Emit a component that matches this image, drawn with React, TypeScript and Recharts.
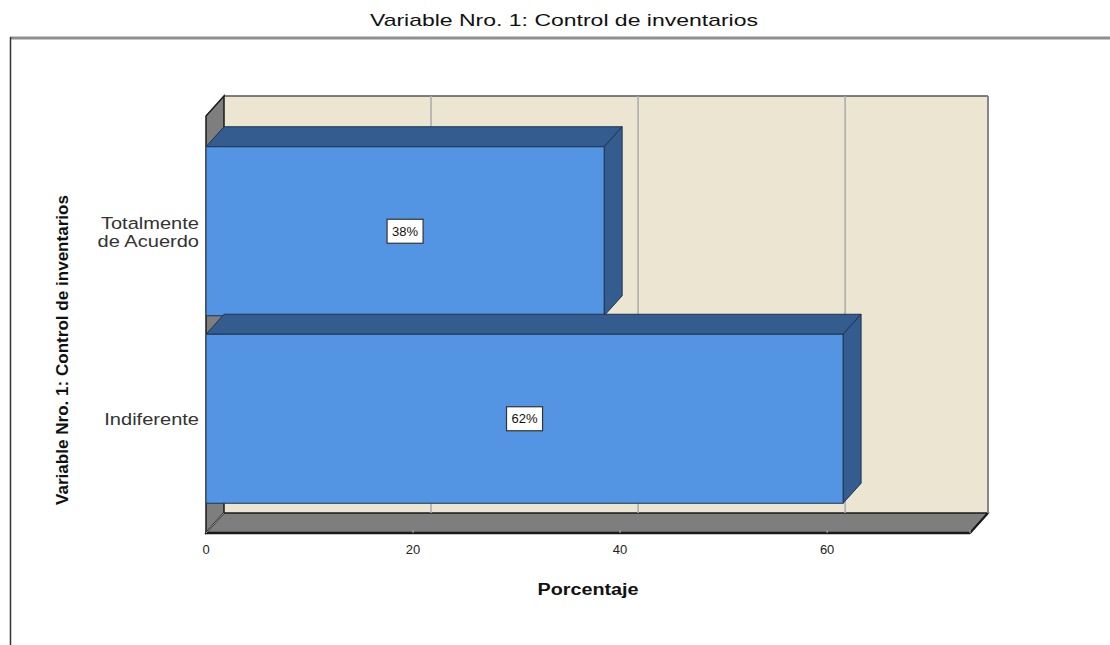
import React from 'react';
import { BarChart, Bar, XAxis, YAxis, CartesianGrid } from 'recharts';

const categories = ['Totalmente de Acuerdo', 'Indiferente'];
const percentValues = [38.46, 61.54];
const percentLabels = ['38%', '62%'];
const xTicks = [0, 20, 40, 60];
const X_MAX = 73.8;
const chartTitle = 'Variable Nro. 1: Control de inventarios';
const yTitle = 'Variable Nro. 1: Control de inventarios';
const xTitle = 'Porcentaje';

const data = categories.map((c, i) => ({ category: c, value: percentValues[i], label: percentLabels[i] }));

const W = 1110;
const H = 645;
const PLOT = { left: 206, right: 970, top: 116, bottom: 533 };
const DX = 18;
const DY = 20;
const FONT = 'Arial, "Liberation Sans", Helvetica, sans-serif';

const FRONT = '#5394E3';
const SIDE = '#345C8E';
const EDGE = '#1E3450';
const WALL = '#EBE5D1';
const GRAY = '#7E7E7E';
const DARK = '#1a1a1a';

const Bar3D = (props: any) => {
  const { x, y, width, height, payload } = props;
  if (x == null || width == null) return null;
  const x2 = x + width;
  const y2 = y + height;
  const cx = x + width / 2;
  const cy = y + height / 2;
  return (
    <g>
      <polygon points={`${x},${y} ${x + DX},${y - DY} ${x2 + DX},${y - DY} ${x2},${y}`} fill={SIDE} stroke={EDGE} strokeWidth={1} />
      <polygon points={`${x2},${y} ${x2 + DX},${y - DY} ${x2 + DX},${y2 - DY} ${x2},${y2}`} fill={SIDE} stroke={EDGE} strokeWidth={1} />
      <rect x={x} y={y} width={width} height={height} fill={FRONT} stroke={EDGE} strokeWidth={1} />
      <rect x={cx - 18} y={cy - 12} width={36} height={24} fill="#ffffff" stroke="#333" strokeWidth={1.2} />
      <text x={cx} y={cy} dy="0.36em" textAnchor="middle" fontSize={13} fill="#111" fontFamily={FONT}>
        {payload.label}
      </text>
    </g>
  );
};

const CategoryTick = (props: any) => {
  const { x, y, payload } = props;
  const val: string = String(payload.value);
  const sp = val.indexOf(' ');
  const lines = val.length > 12 && sp > 0 ? [val.slice(0, sp), val.slice(sp + 1)] : [val];
  const lh = 18;
  const start = y - ((lines.length - 1) * lh) / 2;
  return (
    <g transform={`translate(${x + 1},0)`}>
      {lines.map((ln, i) => (
        <text
          key={i}
          transform={`translate(0,${start + i * lh}) scale(1.18,1)`}
          x={0}
          y={0}
          dy="0.36em"
          textAnchor="end"
          fontSize={17}
          fill="#333"
          fontFamily={FONT}
        >
          {ln}
        </text>
      ))}
    </g>
  );
};

const XTick = (props: any) => {
  const { x, y, payload } = props;
  return (
    <text x={x} y={y} dy="0.71em" textAnchor="middle" fontSize={13} fill="#222" fontFamily={FONT}>
      {payload.value}
    </text>
  );
};

const GridLine = (p: any) => {
  const { x1, y1, y2 } = p;
  if (Math.abs(x1 - PLOT.left) < 1) return <g key={p.key} />;
  return (
    <g key={p.key}>
      <line x1={x1 + DX} x2={x1 + DX} y1={y1 - DY} y2={y2 - DY} stroke="#ababab" strokeWidth={1.5} />
      <line x1={x1} x2={x1} y1={y2 - 3} y2={y2} stroke="#b0b0b0" strokeWidth={1} />
    </g>
  );
};

export default function App() {
  const bl = PLOT.left + DX;
  const br = PLOT.right + DX;
  const bt = PLOT.top - DY;
  const bb = PLOT.bottom - DY;
  return (
    <div style={{ position: 'absolute', left: 0, top: 0, width: W, height: H, background: '#fff', overflow: 'hidden' }}>
      <svg width={W} height={H} style={{ position: 'absolute', left: 0, top: 0 }}>
        <line x1={10} y1={38} x2={W} y2={38} stroke="#8f8f8f" strokeWidth={3} />
        <line x1={10.5} y1={37} x2={10.5} y2={H} stroke="#333" strokeWidth={1.5} />
        <text x={564} y={26} textAnchor="middle" fontSize={17} textLength={388} lengthAdjust="spacingAndGlyphs" fill="#111" fontFamily={FONT}>
          {chartTitle}
        </text>
        <text
          transform={`translate(68,350) rotate(-90)`}
          x={0}
          y={0}
          textAnchor="middle"
          fontSize={16}
          fontWeight="bold"
          textLength={310}
          lengthAdjust="spacingAndGlyphs"
          fill="#111"
          fontFamily={FONT}
        >
          {yTitle}
        </text>
        <text x={588} y={595} textAnchor="middle" fontSize={16} fontWeight="bold" textLength={101} lengthAdjust="spacingAndGlyphs" fill="#111" fontFamily={FONT}>
          {xTitle}
        </text>
        {/* back wall */}
        <rect x={bl} y={bt} width={br - bl} height={bb - bt} fill={WALL} />
        <line x1={bl} y1={bt} x2={br} y2={bt} stroke="#555" strokeWidth={1.5} />
        <line x1={br} y1={bt} x2={br} y2={bb} stroke={DARK} strokeWidth={2} />
        {/* left side wall */}
        <polygon points={`${PLOT.left},${PLOT.top} ${bl},${bt} ${bl},${bb} ${PLOT.left},${PLOT.bottom}`} fill={GRAY} stroke={DARK} strokeWidth={1.5} />
        {/* floor */}
        <polygon points={`${PLOT.left},${PLOT.bottom} ${bl},${bb} ${br},${bb} ${PLOT.right},${PLOT.bottom}`} fill={GRAY} stroke={DARK} strokeWidth={1.5} />
        <line x1={PLOT.left} y1={PLOT.bottom} x2={PLOT.right} y2={PLOT.bottom} stroke={DARK} strokeWidth={2.5} />
        <line x1={PLOT.right} y1={PLOT.bottom} x2={br} y2={bb} stroke={DARK} strokeWidth={2} />
        <line x1={PLOT.left} y1={PLOT.bottom} x2={bl} y2={bb} stroke="#999" strokeWidth={1} />
      </svg>
      <div style={{ position: 'absolute', left: 0, top: 0 }}>
        <BarChart
          width={W}
          height={H}
          data={data}
          layout="vertical"
          margin={{ top: PLOT.top, right: W - PLOT.right, bottom: 82, left: 86 }}
        >
          <CartesianGrid horizontal={false} vertical={GridLine} stroke="#ababab" />
          <XAxis
            type="number"
            domain={[0, X_MAX]}
            ticks={xTicks}
            axisLine={false}
            tickLine={false}
            height={30}
            tickMargin={6}
            tick={<XTick />}
            allowDataOverflow
          />
          <YAxis
            type="category"
            dataKey="category"
            width={120}
            axisLine={false}
            tickLine={false}
            padding={{ top: 21.75, bottom: 20.25 }}
            tick={<CategoryTick />}
          />
          <Bar dataKey="value" barSize={169} shape={<Bar3D />} isAnimationActive={false} />
        </BarChart>
      </div>
    </div>
  );
}
